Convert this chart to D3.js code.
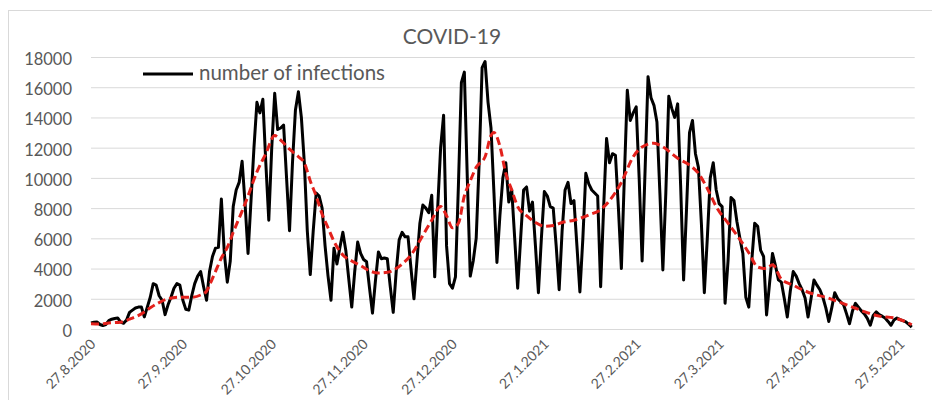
<!DOCTYPE html>
<html><head><meta charset="utf-8">
<script src="https://cdn.jsdelivr.net/npm/d3@7"></script>
<style>
body{margin:0;background:#fff}
svg{display:block}
text{font-family:Lato,"Open Sans",sans-serif;}
</style>
</head><body>
<svg id="chart" width="932" height="400"></svg>
<script>
// ---------------- data ----------------
const startDate = "2020-08-27";
const infections = [
  400,450,470,300,230,300,550,650,700,730,
  450,380,600,1100,1250,1390,1450,1460,800,1450,
  2100,3000,2900,2200,1900,950,1600,2100,2700,3000,
  2900,1900,1300,1250,2200,3000,3500,3800,2800,1900,
  3800,4800,5350,5400,8600,5000,3100,4500,8100,9200,
  9700,11100,8300,5000,8500,12000,15000,14300,15200,11000,
  7200,12000,15600,13200,13300,13500,10000,6500,11000,14500,
  15700,14000,11000,6500,3600,6500,9000,8800,8000,5500,
  3500,1900,5350,4300,5400,6400,5200,3300,1450,3800,
  5750,5000,4600,4450,2700,1050,3200,5100,4650,4700,
  4650,2800,1100,3800,5900,6400,6100,6100,4000,2000,
  4500,7000,8200,8000,7700,8850,3450,8000,12000,14150,
  5500,3000,2700,3450,9500,16300,17000,10000,3500,4500,
  6000,11000,17300,17700,15000,13300,9000,4400,7500,10000,
  11000,8400,9200,6000,2700,6000,9200,9400,7800,8400,
  5500,2400,6000,9100,8800,8100,8000,5500,2600,6500,
  9200,9700,8300,8500,5500,2450,6000,10300,9600,9200,
  9000,8800,2800,8000,12600,11000,11600,11500,8000,4000,
  10000,15800,13800,14300,14700,10000,4500,10500,16700,15300,
  14800,13700,9000,3900,9000,15400,14600,14000,14900,9500,
  3250,8000,13000,13800,11600,10700,7000,2400,6000,10000,
  11000,9200,8300,8100,1700,4500,8700,8500,7100,6000,
  5000,2100,1450,4500,7000,6800,5200,4800,930,3000,
  5000,4200,3250,3100,2000,800,2500,3800,3500,3000,
  2600,2050,800,2000,3250,2900,2600,2100,1400,500,
  1400,2400,2000,1800,1600,1000,350,1200,1700,1450,
  1200,1000,700,250,900,1130,950,850,730,500,
  250,600,730,620,550,470,300,130
];
const trendDays = [0,3,6,10,13,17,20,23,26,30,34,37,39,40,42,44,46,48,51,53,56,59,62,64,67,70,72,74,76,78,80,82,85,88,91,94,97,100,103,105,108,112,115,118,120,122,124,126,128,130,133,135,136,138,140,142,144,147,150,153,156,159,163,168,172,175,179,183,186,190,193,198,202,205,208,211,215,218,222,225,228,230,233,237,240,244,248,253,257,261,266,271,275,277];
const trendValues = [350,330,400,450,650,1000,1400,1750,2000,2100,2100,2250,2500,2900,3800,4700,5400,6400,7800,8800,10400,11600,12800,12500,11900,11400,11000,9800,8800,7600,6700,5800,4900,4500,4200,3850,3700,3750,4000,4300,4900,6200,7200,8100,7500,6700,7000,8800,9800,10700,11400,12800,13000,12100,10300,9200,8100,7500,7050,6800,6850,7050,7200,7550,7900,8500,9700,11400,12050,12300,12050,11300,10850,10300,9300,8100,7000,6200,5050,4100,4000,4250,3300,2900,2600,2300,2100,1750,1450,1150,850,730,480,280];
const yTicks = [0,2000,4000,6000,8000,10000,12000,14000,16000,18000];
const xTickLabels = ["27.8.2020","27.9.2020","27.10.2020","27.11.2020","27.12.2020","27.1.2021","27.2.2021","27.3.2021","27.4.2021","27.5.2021"];
const chartTitle = "COVID-19";
const legendLabel = "number of infections";

// ---------------- chart ----------------
const svg = d3.select("#chart");
const t0 = d3.timeParse("%Y-%m-%d")(startDate);
const dayAt = i => d3.timeDay.offset(t0, i);
const parseLabel = s => { const [dd, mm, yy] = s.split(".").map(Number); return new Date(yy, mm - 1, dd); };

const plotL = 91, plotR = 91 + 278 * 2.963, plotT = 57, plotB = 329;
const x = d3.scaleTime().domain([t0, dayAt(278)]).range([plotL, plotR]);
const y = d3.scaleLinear().domain([0, 18000]).range([plotB, plotT]);

// chart area border
svg.append("rect").attr("x", 8.5).attr("y", 10.5).attr("width", 960).attr("height", 420)
  .attr("fill", "none").attr("stroke", "#d9d9d9").attr("stroke-width", 1);

// y axis + gridlines
const yAxis = svg.append("g").attr("transform", `translate(${plotL},0)`)
  .call(d3.axisLeft(y).tickValues(yTicks).tickSize(-(plotR - plotL)).tickPadding(19).tickFormat(d3.format("d")));
yAxis.select(".domain").remove();
yAxis.selectAll(".tick line").attr("stroke", "#d9d9d9").attr("stroke-width", 1);
yAxis.selectAll(".tick text").attr("fill", "#595959").attr("font-size", 16.5)
  .attr("font-family", "Lato, 'Open Sans', sans-serif").attr("dy", "0.45em");

// x axis labels
const xAxis = svg.append("g").attr("transform", `translate(0,${plotB})`)
  .call(d3.axisBottom(x).tickValues(xTickLabels.map(parseLabel)).tickSize(0)
    .tickFormat((d, i) => xTickLabels[i]));
xAxis.select(".domain").remove();
xAxis.selectAll(".tick text")
  .attr("fill", "#595959").attr("font-size", 14).attr("font-family", "Lato, 'Open Sans', sans-serif")
  .attr("text-anchor", "end").attr("x", 5).attr("y", 16).attr("dy", 0)
  .attr("transform", "rotate(-45,5,16)");

// data lines
const line = d3.line().x((d, i) => x(dayAt(i))).y(d => y(d));
svg.append("path").datum(infections).attr("d", line)
  .attr("fill", "none").attr("stroke", "#000").attr("stroke-width", 3).attr("stroke-linejoin", "round");

const trendLine = d3.line().x(d => x(dayAt(d[0]))).y(d => y(d[1])).curve(d3.curveMonotoneX);
svg.append("path").datum(trendDays.map((d, i) => [d, trendValues[i]])).attr("d", trendLine)
  .attr("fill", "none").attr("stroke", "#e3211c").attr("stroke-width", 3)
  .attr("stroke-dasharray", "8,4");

// title
svg.append("text").attr("x", 452).attr("y", 44).attr("text-anchor", "middle")
  .attr("fill", "#595959").attr("font-size", 21).text(chartTitle);

// legend
svg.append("line").attr("x1", 143).attr("x2", 193).attr("y1", 74).attr("y2", 74)
  .attr("stroke", "#000").attr("stroke-width", 3);
svg.append("text").attr("x", 199).attr("y", 80).attr("fill", "#595959")
  .attr("font-size", 20.5).text(legendLabel);
</script>
</body></html>
